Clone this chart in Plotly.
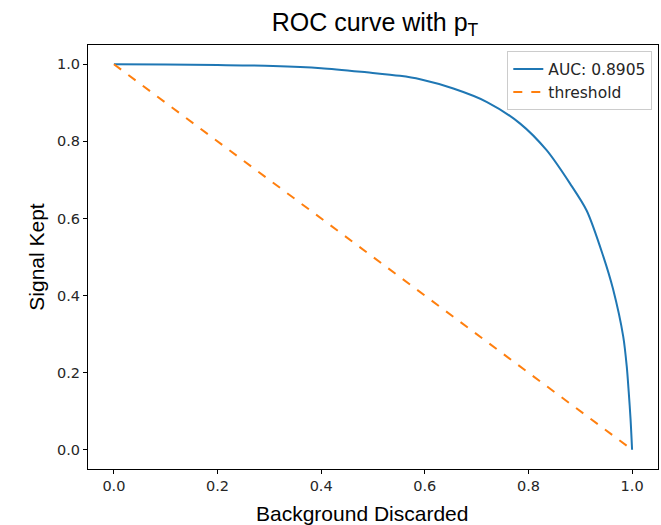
import plotly.graph_objects as go

# ROC curve
bkg_discarded = [0.0, 0.1, 0.2, 0.307, 0.4, 0.488, 0.552, 0.591, 0.655, 0.72, 0.784,
                 0.835, 0.88, 0.9125, 0.9446, 0.963, 0.983, 0.9897, 0.9935, 0.997, 1.0]
signal_kept = [1.0, 0.9995, 0.998, 0.9956, 0.99, 0.979, 0.970, 0.961, 0.937, 0.902, 0.846,
               0.777, 0.691, 0.620, 0.501, 0.418, 0.293, 0.216, 0.15, 0.08, 0.0]

threshold_x = [0.0, 1.0]
threshold_y = [1.0, 0.0]

auc_label = "AUC: 0.8905"
threshold_label = "threshold"

tick_vals = [0.0, 0.2, 0.4, 0.6, 0.8, 1.0]
tick_text = ["0.0", "0.2", "0.4", "0.6", "0.8", "1.0"]

fig = go.Figure()
fig.add_trace(go.Scatter(x=bkg_discarded, y=signal_kept, mode="lines", name=auc_label,
                         line=dict(color="#1f77b4", width=2, shape="spline", smoothing=0.8)))
fig.add_trace(go.Scatter(x=threshold_x, y=threshold_y, mode="lines", name=threshold_label,
                         line=dict(color="#ff7f0e", width=2, dash="dash")))

axis_common = dict(
    showline=True, linecolor="black", linewidth=1, mirror=True,
    showgrid=False, zeroline=False,
    ticks="outside", ticklen=4, tickcolor="black", tickwidth=1,
    tickvals=tick_vals, ticktext=tick_text,
    tickfont=dict(family="DejaVu Sans", size=14.5, color="#262626"),
)

fig.update_layout(
    width=661, height=525,
    margin=dict(l=88, r=3, t=45, b=56),
    paper_bgcolor="white", plot_bgcolor="white",
    title=dict(text="ROC curve with p<sub>T</sub>", x=375 / 661, xanchor="center",
               y=1 - 22 / 525, yanchor="middle",
               font=dict(family="Liberation Sans", size=25, color="black")),
    xaxis=dict(range=[-0.05, 1.05], **axis_common),
    yaxis=dict(range=[-0.05, 1.05], title=dict(text="Signal Kept", standoff=6,
               font=dict(family="Liberation Sans", size=21, color="black")), **axis_common),
    legend=dict(x=0.99, xanchor="right", y=0.985, yanchor="top",
                bordercolor="#cccccc", borderwidth=1, bgcolor="rgba(255,255,255,0.8)",
                font=dict(family="DejaVu Sans", size=15.5, color="#262626"),
                tracegroupgap=0),
    showlegend=True,
    annotations=[dict(text="Background Discarded", xref="paper", yref="paper",
                      x=(362 - 88) / 570, y=-44 / 424, xanchor="center", yanchor="middle",
                      showarrow=False,
                      font=dict(family="Liberation Sans", size=21, color="black"))],
)

fig.write_html("out.html")
